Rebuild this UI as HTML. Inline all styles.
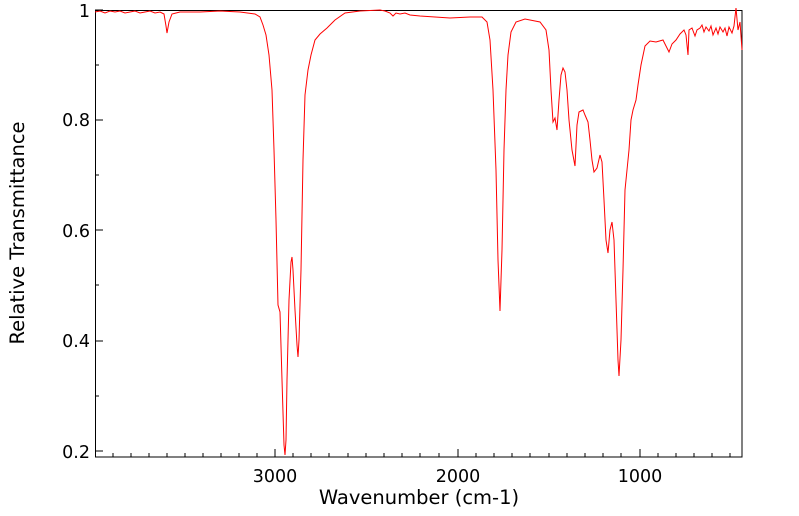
<!DOCTYPE html>
<html><head><meta charset="utf-8"><style>
html,body{margin:0;padding:0;background:#fff;}
svg{display:block;font-family:"DejaVu Sans","Liberation Sans",sans-serif;}
</style></head><body>
<svg width="799" height="516" viewBox="0 0 799 516" xmlns="http://www.w3.org/2000/svg">
<rect width="799" height="516" fill="#fff"/>
<g stroke="#000" stroke-width="1">
<path d="M113,457v-4M131,457v-4M149,457v-4M167,457v-4M185,457v-4M203,457v-4M221,457v-4M239,457v-4M257,457v-4M275,457v-8M293,457v-4M311,457v-4M329,457v-4M348,457v-4M366,457v-4M384,457v-4M402,457v-4M420,457v-4M439,457v-4M458,457v-8M476,457v-4M494,457v-4M512,457v-4M530,457v-4M549,457v-4M567,457v-4M585,457v-4M603,457v-4M621,457v-4M640,457v-8M658,457v-4M676,457v-4M694,457v-4M712,457v-4M730,457v-4"/>
<path d="M95,451h8M95,396h4M95,341h8M95,285h4M95,230h8M95,175h4M95,120h8M95,65h4M95,10h8"/>
</g>
<rect x="95.5" y="10.5" width="646.5" height="446.5" fill="none" stroke="#000" stroke-width="1"/>
<g font-size="17.5" fill="#000">
<text x="90" y="458" text-anchor="end">0.2</text>
<text x="90" y="347" text-anchor="end">0.4</text>
<text x="90" y="237" text-anchor="end">0.6</text>
<text x="90" y="126" text-anchor="end">0.8</text>
<text x="90" y="17" text-anchor="end">1</text>
<text x="275" y="482" text-anchor="middle">3000</text>
<text x="458" y="482" text-anchor="middle">2000</text>
<text x="640" y="482" text-anchor="middle">1000</text>
<text x="419" y="504" text-anchor="middle" font-size="19.5">Wavenumber (cm-1)</text>
<text transform="translate(24,233) rotate(-90)" text-anchor="middle" font-size="19.5">Relative Transmittance</text>
</g>
<clipPath id="c"><rect x="95" y="8" width="648" height="450"/></clipPath>
<path clip-path="url(#c)" fill="none" stroke="#f00" stroke-width="1" d="M95,12 L100,11 105,13 110,11 115,12 120,11 125,13 130,12 135,11 140,13 145,12 150,11 155,13 160,12 164,14 166,26 167,33 169,22 172,14 176,13 180,12 200,12 220,11 240,12 255,14 260,17 263,25 266,35 269,55 272,90 274,150 276,220 278,305 280,312 282,380 284,445 285,455 286,440 287,380 289,300 291,262 292,257 293,270 295,310 297,345 298,357 299,340 301,270 303,160 305,95 308,70 311,55 315,40 320,34 327,28 335,20 345,13 360,11 380,10 385,11 390,13 393,16 396,13 400,14 405,13 410,15 420,16 435,17 450,18 470,17 482,17 487,22 490,40 493,90 496,170 498,260 500,311 502,250 504,150 506,90 508,55 511,32 516,22 525,19 540,22 546,30 549,50 551,90 553,122 555,118 557,130 559,100 561,75 563,68 565,72 567,90 569,120 572,150 575,166 577,125 579,112 583,110 585,115 588,122 590,140 592,160 594,172 597,168 600,155 602,162 604,200 606,240 608,253 610,230 612,222 614,240 616,300 618,360 619,376 621,340 623,270 625,190 627,170 629,150 631,120 633,110 636,100 638,85 641,65 645,46 650,41 656,42 663,40 666,46 669,52 672,44 676,40 680,34 684,30 686,35 688,55 689,30 692,28 695,36 697,30 700,28 702,25 704,32 706,27 709,31 711,26 713,35 716,28 718,34 720,27 723,32 725,28 727,36 729,27 732,33 734,26 736,8 738,30 740,22 742,50"/>
</svg>
</body></html>
